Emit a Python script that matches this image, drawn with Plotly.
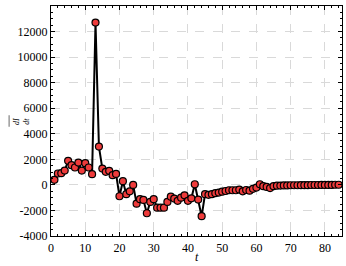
import plotly.graph_objects as go

t = list(range(1, 85))
dIdt = [400, 890, 915, 1120, 1880, 1540, 1360, 1750, 1120, 1700,
        1360, 840, 12700, 3000, 1280, 1020, 1100, 760, 860, -890,
        290, -730, -500, 0, -1470, -1120, -1180, -2220, -1330, -1120,
        -1780, -1780, -1780, -1330, -920, -1070, -1250, -1000, -820, -1250,
        -1050, 50, -1150, -2450, -730, -780, -730, -650, -600, -530,
        -480, -420, -420, -420, -370, -500, -400, -450, -310, -210,
        50, -100, -160, -250, -100, -60, -50, -40, -40, -30,
        -30, -30, -20, -20, -20, -10, -10, -10, 0, 0,
        0, 0, 10, 10]

x_ticks = [0, 10, 20, 30, 40, 50, 60, 70, 80]
y_ticks = [-4000, -2000, 0, 2000, 4000, 6000, 8000, 10000, 12000, 14000]

font = "Liberation Serif"

fig = go.Figure()
fig.add_trace(go.Scatter(
    x=t, y=dIdt, mode="lines+markers",
    line=dict(color="black", width=2),
    marker=dict(size=7, color="#ee3b3b", line=dict(color="black", width=1.2)),
))

axis_common = dict(
    showline=True, linecolor="black", linewidth=1.2, mirror="allticks",
    ticks="inside", ticklen=4, tickwidth=1, tickcolor="black",
    showgrid=True, gridcolor="#d9d9d9", griddash="dash", gridwidth=1,
    zeroline=False, automargin=False,
    tickfont=dict(family=font, size=12, color="black"),
)

fig.update_xaxes(
    range=[0, 85], tickvals=x_ticks, ticktext=[str(v) for v in x_ticks],
    minor=dict(ticks="inside", ticklen=2, dtick=2, tick0=0, tickcolor="black", showgrid=False),
    **axis_common,
)
fig.update_yaxes(
    range=[-4000, 14000], tickvals=y_ticks, ticktext=[str(v) for v in y_ticks],
    minor=dict(ticks="inside", ticklen=2, dtick=500, tick0=0, tickcolor="black", showgrid=False),
    **axis_common,
)

fig.add_annotation(
    x=0.5, y=-0.092, xref="paper", yref="paper", yanchor="middle",
    text="<i>t</i>", showarrow=False,
    font=dict(family=font, size=12, color="black"),
)
fig.add_annotation(
    x=-0.143, y=0.5, xref="paper", yref="paper",
    text="<i>dI</i><br><i>dt</i>", textangle=-90, showarrow=False,
    font=dict(family=font, size=8, color="black"),
)
fig.add_shape(type="line", xref="paper", yref="paper",
              x0=-0.144, x1=-0.144, y0=0.475, y1=0.525,
              line=dict(color="black", width=0.6))

fig.update_layout(
    width=346, height=266,
    margin=dict(l=51, r=4, t=6, b=30),
    plot_bgcolor="white", paper_bgcolor="white",
    showlegend=False,
)

fig.write_html("out.html", config={"displayModeBar": False},
               post_script="document.body.style.margin='0';document.body.style.overflow='hidden';")
